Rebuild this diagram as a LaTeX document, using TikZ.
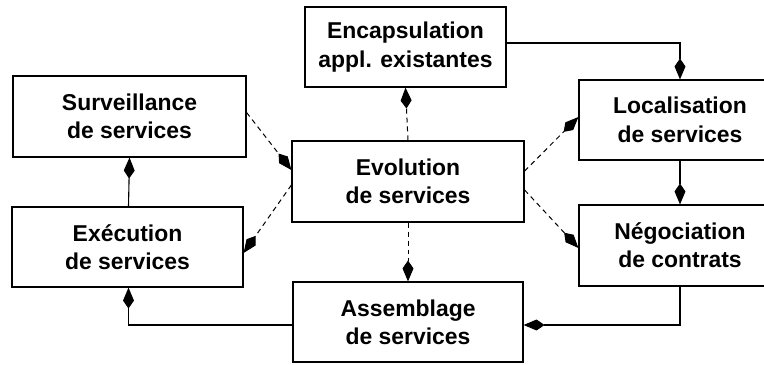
\documentclass[tikz,border=0pt]{standalone}
\usepackage{fontspec}
\setmainfont{Liberation Sans}
\usetikzlibrary{arrows.meta,calc}
\begin{document}
\begin{tikzpicture}[x=1bp,y=-1bp,
  box/.style={draw,line width=1.2pt,rectangle,align=center,inner sep=0pt,
    font=\fontsize{23}{28.5}\selectfont\bfseries},
  conn/.style={line width=1.1pt,-{Kite[length=21pt,width=11pt,inset=8pt]}},
  dconn/.style={conn,line width=1pt,dash pattern=on 5pt off 4pt}]
\useasboundingbox (0,0) rectangle (764,364);
\clip (0,0) rectangle (764,364);
\node[box,minimum width=201bp,minimum height=80bp] (encap) at (405.5,47) {Encapsulation\\appl. existantes};
\node[box,minimum width=233bp,minimum height=81bp] (surv) at (129.5,116.5) {Surveillance\\de services};
\node[box,minimum width=231bp,minimum height=80bp] (exec) at (127.5,247) {Exécution\\de services};
\node[box,minimum width=232bp,minimum height=81bp] (evol) at (408,181.5) {Evolution\\de services};
\node[box,minimum width=230bp,minimum height=80bp] (assemb) at (408,322) {Assemblage\\de services};
\node[box,minimum width=202bp,minimum height=80bp] (loc) at (680,120) {Localisation\\de services};
\node[box,minimum width=202bp,minimum height=81bp] (neg) at (680,245.5) {Négociation\\de contrats};
% solid connectors
\draw[conn] ([yshift=4pt]encap.east) -| (loc.north);
\draw[conn] (loc.south) -- (neg.north);
\draw[conn] (neg.south) |- ([yshift=-3pt]assemb.east);
\draw[conn] ([yshift=-3pt]assemb.west) -| ([xshift=1pt]exec.south);
\draw[conn] ([xshift=1pt]exec.north) -- (surv.south);
% dashed connectors
\draw[dconn] (evol.north) -- (encap.south);
\draw[dconn] (evol.south) -- (assemb.north);
\draw[dconn] ([yshift=4pt]surv.east) -- ([yshift=11.5pt]evol.west);
\draw[dconn] ([yshift=-3.5pt]evol.west) -- ([yshift=-6pt]exec.east);
\draw[dconn] ([yshift=10.5pt]evol.east) -- ([yshift=3pt]loc.west);
\draw[dconn] ([yshift=-8.5pt]evol.east) -- ([yshift=-2.5pt]neg.west);
\end{tikzpicture}
\end{document}
